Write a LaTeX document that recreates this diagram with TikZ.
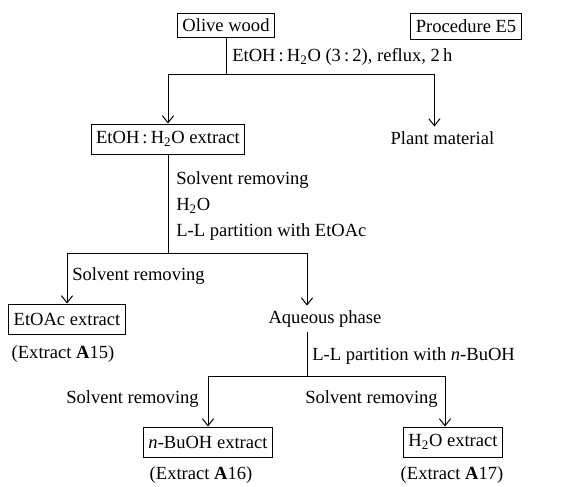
\documentclass[tikz,border=0pt]{standalone}
\usepackage{fontspec}
\setmainfont{Liberation Serif}
\usetikzlibrary{arrows.meta}
\begin{document}
\begin{tikzpicture}[font=\fontsize{13.2}{18.5}\selectfont,
  box/.style={draw, line width=0.7pt, inner xsep=3.5pt, inner ysep=2pt, minimum height=0.75cm},
  note/.style={inner sep=0pt},
  flow/.style={line width=0.7pt, -{Straight Barb[length=5pt,width=8pt]}}]
\useasboundingbox (0,0) rectangle (14.575,12.15);
% top level
\node[box, minimum height=0.6cm] (olive) at (5.65,11.525) {Olive wood};
\node[box, minimum height=0.65cm] (proc) at (11.65,11.5) {Procedure E5};
\coordinate (j1) at (5.65,10.3);
\node[note, anchor=west] (cond) at (5.8,10.725) {EtOH\,:\,H\textsubscript{2}O (3\,:\,2), reflux, 2\,h};
\node[box] (etoh) at (4.2,8.675) {EtOH\,:\,H\textsubscript{2}O extract};
\node (plant) at (11.06,8.7) {Plant material};
\draw[line width=0.7pt] (olive) -- (j1);
\draw[flow] (j1) -| (etoh);
\draw[flow] (j1) -| ([xshift=-0.2cm]plant.north);
% partition with EtOAc
\coordinate (j2) at (4.2,5.825);
\node[note, anchor=west, align=left] (steps) at (4.4,7.0) {Solvent removing\\H\textsubscript{2}O\\L-L partition with EtOAc};
\node[box] (etoac) at (1.675,4.175) {EtOAc extract};
\node (a15) at (1.575,3.3) {(Extract \textbf{A}15)};
\node[note, anchor=west] (rm1) at (1.8,5.25) {Solvent removing};
\node (aq) at (8.125,4.175) {Aqueous phase};
\coordinate (j3) at (7.675,2.75);
\draw[line width=0.7pt] (etoh) -- (j2);
\draw[flow] (j2) -| (etoac);
\draw[flow] (j2) -| (aq.north -| j3);
% partition with n-BuOH
\node[note, anchor=west] (bu) at (7.8,3.25) {L-L partition with \textit{n}-BuOH};
\node[box] (nbu) at (5.2,1.1) {\textit{n}-BuOH extract};
\node[box] (wat) at (11.325,1.1) {H\textsubscript{2}O extract};
\node[note, anchor=east] (rm2) at (4.975,2.175) {Solvent removing};
\node[note, anchor=east] (rm3) at (10.95,2.175) {Solvent removing};
\node (a16) at (5.025,0.275) {(Extract \textbf{A}16)};
\node (a17) at (11.3,0.275) {(Extract \textbf{A}17)};
\draw[line width=0.7pt] (aq.south -| j3) -- (j3);
\draw[flow] (j3) -| (nbu);
\draw[flow] (j3) -| ([xshift=-0.2cm]wat.north);
\end{tikzpicture}
\end{document}
